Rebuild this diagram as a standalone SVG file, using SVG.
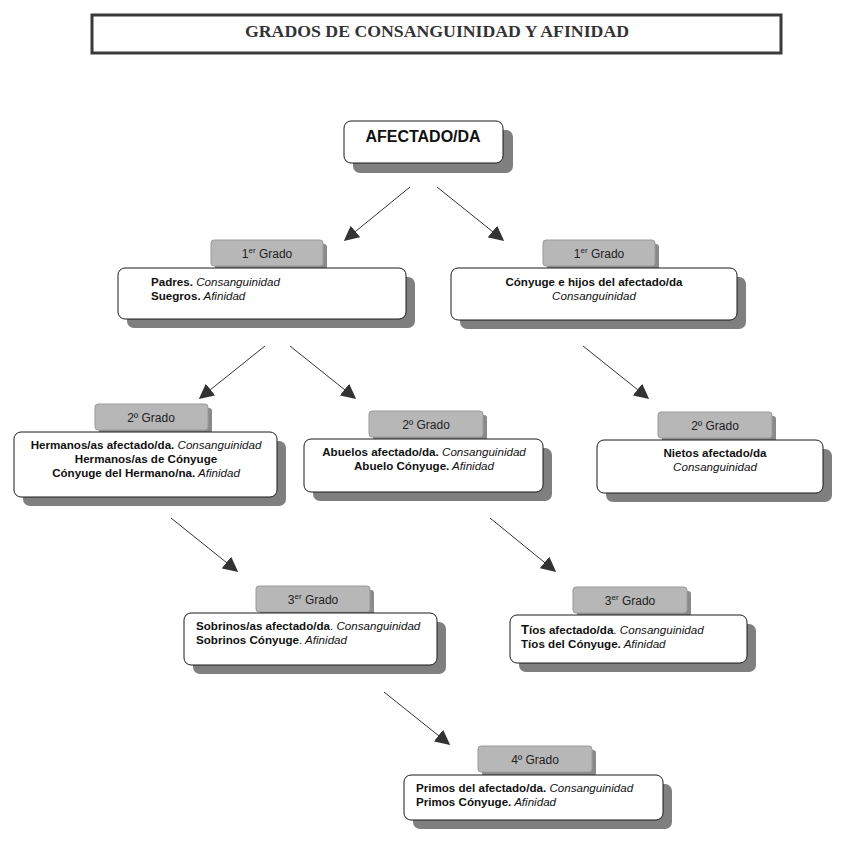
<svg xmlns="http://www.w3.org/2000/svg" width="858" height="852" viewBox="0 0 858 852">
<defs>
<style>
.sh{fill:#7f7f7f}
.box{fill:#fff;stroke:#1a1a1a;stroke-width:1}
.lsh{fill:#8a8a8a}
.lab{fill:#b7b7b7;stroke:#9a9a9a;stroke-width:1}
.lt{font-family:"Liberation Sans",Arial,sans-serif;font-size:12px;fill:#222;text-anchor:middle}
.t{font-family:"Liberation Sans",Arial,sans-serif;font-size:11.6px;fill:#111}
.b{font-weight:bold}
.i{font-style:italic}
.c{text-anchor:middle}
.arr{stroke:#333;stroke-width:1;fill:none;marker-end:url(#ah)}
</style>
<marker id="ah" viewBox="0 0 10 10" refX="9" refY="5" markerWidth="15" markerHeight="15" markerUnits="userSpaceOnUse" orient="auto">
<path d="M0,0 L10,5 L0,10 z" fill="#333"/>
</marker>
</defs>
<rect width="858" height="852" fill="#fff"/>
<g id="title">
<rect x="92" y="15" width="689" height="38" fill="#fff" stroke="#3a3a3a" stroke-width="3"/>
<text x="437" y="37" font-family="Liberation Serif,'Times New Roman',serif" font-size="17.5" font-weight="bold" fill="#333" text-anchor="middle" textLength="384" lengthAdjust="spacingAndGlyphs">GRADOS DE CONSANGUINIDAD Y AFINIDAD</text>
</g>
<g id="connectors">
<line class="arr" x1="410" y1="187" x2="345" y2="240"/>
<line class="arr" x1="437" y1="187" x2="503" y2="240"/>
<line class="arr" x1="265" y1="346" x2="200" y2="398"/>
<line class="arr" x1="290" y1="346" x2="355" y2="398"/>
<line class="arr" x1="583" y1="346" x2="648" y2="398"/>
<line class="arr" x1="171" y1="518" x2="237" y2="571"/>
<line class="arr" x1="490" y1="518" x2="555" y2="571"/>
<line class="arr" x1="384" y1="692" x2="449" y2="744"/>
</g>
<g id="afectado">
<rect class="sh" x="353" y="130" width="160" height="43" rx="7"/>
<rect class="box" x="344" y="121" width="159" height="42" rx="7"/>
<text x="423" y="142" font-family="Liberation Sans,Arial,sans-serif" font-size="16" font-weight="bold" fill="#111" text-anchor="middle">AFECTADO/DA</text>
</g>
<g id="grado1-izq">
<rect class="lsh" x="215" y="244" width="112" height="26" rx="3"/>
<rect class="lab" x="211" y="240" width="112" height="26" rx="3"/>
<text class="lt" x="267" y="258">1<tspan font-size="8" dy="-5">er</tspan><tspan dy="5"> Grado</tspan></text>
<rect class="sh" x="127" y="277" width="288" height="51" rx="7"/>
<rect class="box" x="118" y="268" width="288" height="51" rx="7"/>
<text class="t" x="151" y="286"><tspan class="b">Padres.</tspan><tspan class="i"> Consanguinidad</tspan></text>
<text class="t" x="151" y="300"><tspan class="b">Suegros.</tspan><tspan class="i"> Afinidad</tspan></text>
</g>
<g id="grado1-der">
<rect class="lsh" x="547" y="244" width="112" height="26" rx="3"/>
<rect class="lab" x="543" y="240" width="112" height="26" rx="3"/>
<text class="lt" x="599" y="258">1<tspan font-size="8" dy="-5">er</tspan><tspan dy="5"> Grado</tspan></text>
<rect class="sh" x="460" y="277" width="286" height="52" rx="7"/>
<rect class="box" x="451" y="268" width="286" height="52" rx="7"/>
<text class="t b c" x="594" y="286">Cónyuge e hijos del afectado/da</text>
<text class="t i c" x="594" y="300">Consanguinidad</text>
</g>
<g id="grado2-izq">
<rect class="lsh" x="99" y="408" width="113" height="26" rx="3"/>
<rect class="lab" x="95" y="404" width="113" height="26" rx="3"/>
<text class="lt" x="151" y="422">2º Grado</text>
<rect class="sh" x="23" y="441" width="263" height="65" rx="7"/>
<rect class="box" x="14" y="432" width="263" height="65" rx="7"/>
<text class="t c" x="146" y="449"><tspan class="b">Hermanos/as afectado/da.</tspan><tspan class="i"> Consanguinidad</tspan></text>
<text class="t b c" x="146" y="463">Hermanos/as de Cónyuge</text>
<text class="t c" x="146" y="477"><tspan class="b">Cónyuge del Hermano/na.</tspan><tspan class="i"> Afinidad</tspan></text>
</g>
<g id="grado2-centro">
<rect class="lsh" x="373" y="415" width="114" height="26" rx="3"/>
<rect class="lab" x="369" y="411" width="114" height="26" rx="3"/>
<text class="lt" x="426" y="429">2º Grado</text>
<rect class="sh" x="313" y="448" width="239" height="53" rx="7"/>
<rect class="box" x="304" y="439" width="239" height="53" rx="7"/>
<text class="t c" x="424" y="456"><tspan class="b">Abuelos afectado/da.</tspan><tspan class="i"> Consanguinidad</tspan></text>
<text class="t c" x="424" y="470"><tspan class="b">Abuelo Cónyuge.</tspan><tspan class="i"> Afinidad</tspan></text>
</g>
<g id="grado2-der">
<rect class="lsh" x="662" y="416" width="114" height="26" rx="3"/>
<rect class="lab" x="658" y="412" width="114" height="26" rx="3"/>
<text class="lt" x="715" y="430">2º Grado</text>
<rect class="sh" x="606" y="449" width="226" height="53" rx="7"/>
<rect class="box" x="597" y="440" width="226" height="53" rx="7"/>
<text class="t b c" x="715" y="457">Nietos afectado/da</text>
<text class="t i c" x="715" y="471">Consanguinidad</text>
</g>
<g id="grado3-izq">
<rect class="lsh" x="260" y="590" width="114" height="26" rx="3"/>
<rect class="lab" x="256" y="586" width="114" height="26" rx="3"/>
<text class="lt" x="313" y="604">3<tspan font-size="8" dy="-5">er</tspan><tspan dy="5"> Grado</tspan></text>
<rect class="sh" x="193" y="622" width="253" height="52" rx="7"/>
<rect class="box" x="184" y="613" width="253" height="52" rx="7"/>
<text class="t" x="196" y="630"><tspan class="b">Sobrinos/as afectado/da</tspan>.<tspan class="i"> Consanguinidad</tspan></text>
<text class="t" x="196" y="644"><tspan class="b">Sobrinos Cónyuge</tspan>.<tspan class="i"> Afinidad</tspan></text>
</g>
<g id="grado3-der">
<rect class="lsh" x="577" y="591" width="114" height="26" rx="3"/>
<rect class="lab" x="573" y="587" width="114" height="26" rx="3"/>
<text class="lt" x="630" y="605">3<tspan font-size="8" dy="-5">er</tspan><tspan dy="5"> Grado</tspan></text>
<rect class="sh" x="519" y="624" width="237" height="48" rx="7"/>
<rect class="box" x="510" y="615" width="237" height="48" rx="7"/>
<text class="t" x="521" y="634"><tspan class="b" font-size="13">T</tspan><tspan class="b">íos afectado/da</tspan>.<tspan class="i"> Consanguinidad</tspan></text>
<text class="t" x="521" y="648"><tspan class="b">Tíos del Cónyuge.</tspan><tspan class="i"> Afinidad</tspan></text>
</g>
<g id="grado4">
<rect class="lsh" x="482" y="750" width="114" height="26" rx="3"/>
<rect class="lab" x="478" y="746" width="114" height="26" rx="3"/>
<text class="lt" x="535" y="764">4º Grado</text>
<rect class="sh" x="413" y="784" width="259" height="45" rx="7"/>
<rect class="box" x="404" y="775" width="259" height="45" rx="7"/>
<text class="t" x="416" y="792"><tspan class="b">Primos del afectado/da.</tspan><tspan class="i"> Consanguinidad</tspan></text>
<text class="t" x="416" y="806"><tspan class="b">Primos Cónyuge.</tspan><tspan class="i"> Afinidad</tspan></text>
</g>
</svg>
